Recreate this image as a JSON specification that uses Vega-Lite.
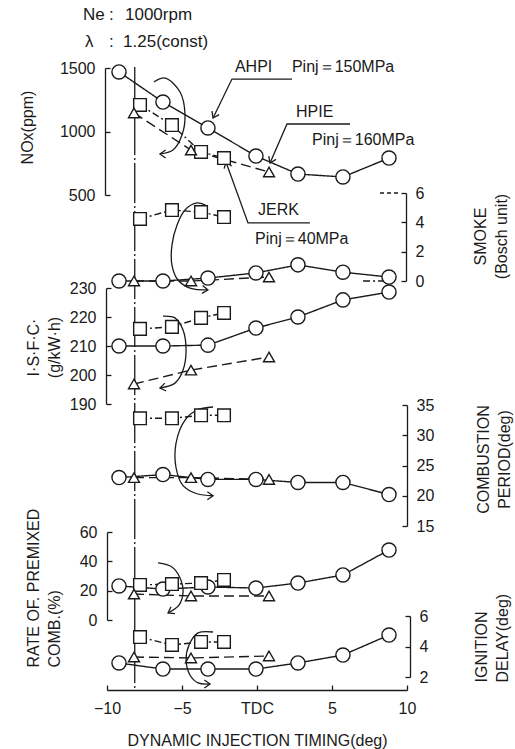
{
  "$schema": "https://vega.github.io/schema/vega-lite/v6.json",
  "width": 300,
  "height": 690,
  "autosize": {"type": "none"},
  "padding": {"left": 107, "top": 0, "right": 108, "bottom": 59},
  "background": "white",
  "config": {
    "view": {"stroke": null},
    "font": "Liberation Sans",
    "axis": {
      "grid": false, "domainColor": "#1a1a1a", "tickColor": "#1a1a1a", "labelColor": "#1a1a1a", "titleColor": "#1a1a1a",
      "domainWidth": 1.3, "tickWidth": 1.3, "tickSize": -5, "labelPadding": 15,
      "labelFont": "Liberation Sans", "labelFontSize": 16, "titleFont": "Liberation Sans", "titleFontSize": 16,
      "titleFontWeight": "normal", "labelFlush": false, "labelOverlap": false, "titleLineHeight": 21
    },
    "text": {"font": "Liberation Sans", "fontSize": 16, "fill": "#1a1a1a"}
  },
  "datasets": {
    "pts": [
      {"panel": "NOx", "series": "AHPI", "x": -9.2, "v": 1469},
      {"panel": "NOx", "series": "AHPI", "x": -6.27, "v": 1232},
      {"panel": "NOx", "series": "AHPI", "x": -3.27, "v": 1028},
      {"panel": "NOx", "series": "AHPI", "x": -0.07, "v": 807},
      {"panel": "NOx", "series": "AHPI", "x": 2.73, "v": 665},
      {"panel": "NOx", "series": "AHPI", "x": 5.73, "v": 642},
      {"panel": "NOx", "series": "AHPI", "x": 8.8, "v": 791},
      {"panel": "NOx", "series": "JERK", "x": -7.8, "v": 1209},
      {"panel": "NOx", "series": "JERK", "x": -5.67, "v": 1051},
      {"panel": "NOx", "series": "JERK", "x": -3.73, "v": 839},
      {"panel": "NOx", "series": "JERK", "x": -2.2, "v": 791},
      {"panel": "NOx", "series": "HPIE", "x": -8.2, "v": 1146},
      {"panel": "NOx", "series": "HPIE", "x": -4.4, "v": 854},
      {"panel": "NOx", "series": "HPIE", "x": 0.8, "v": 681},

      {"panel": "Smoke", "series": "AHPI", "x": -9.2, "v": 0},
      {"panel": "Smoke", "series": "AHPI", "x": -6.27, "v": 0},
      {"panel": "Smoke", "series": "AHPI", "x": -3.27, "v": 0.2},
      {"panel": "Smoke", "series": "AHPI", "x": -0.07, "v": 0.55},
      {"panel": "Smoke", "series": "AHPI", "x": 2.73, "v": 1.1},
      {"panel": "Smoke", "series": "AHPI", "x": 5.73, "v": 0.6},
      {"panel": "Smoke", "series": "AHPI", "x": 8.8, "v": 0.27},
      {"panel": "Smoke", "series": "JERK", "x": -7.8, "v": 4.23},
      {"panel": "Smoke", "series": "JERK", "x": -5.67, "v": 4.84},
      {"panel": "Smoke", "series": "JERK", "x": -3.73, "v": 4.7},
      {"panel": "Smoke", "series": "JERK", "x": -2.2, "v": 4.36},
      {"panel": "Smoke", "series": "HPIE", "x": -8.2, "v": 0},
      {"panel": "Smoke", "series": "HPIE", "x": -4.4, "v": 0},
      {"panel": "Smoke", "series": "HPIE", "x": 0.8, "v": 0.27},

      {"panel": "ISFC", "series": "AHPI", "x": -9.2, "v": 210},
      {"panel": "ISFC", "series": "AHPI", "x": -6.27, "v": 210},
      {"panel": "ISFC", "series": "AHPI", "x": -3.27, "v": 210.3},
      {"panel": "ISFC", "series": "AHPI", "x": -0.07, "v": 216.2},
      {"panel": "ISFC", "series": "AHPI", "x": 2.73, "v": 220},
      {"panel": "ISFC", "series": "AHPI", "x": 5.73, "v": 225.9},
      {"panel": "ISFC", "series": "AHPI", "x": 8.8, "v": 228.6},
      {"panel": "ISFC", "series": "JERK", "x": -7.8, "v": 215.9},
      {"panel": "ISFC", "series": "JERK", "x": -5.67, "v": 216.6},
      {"panel": "ISFC", "series": "JERK", "x": -3.73, "v": 219.7},
      {"panel": "ISFC", "series": "JERK", "x": -2.2, "v": 221.4},
      {"panel": "ISFC", "series": "HPIE", "x": -8.2, "v": 196.9},
      {"panel": "ISFC", "series": "HPIE", "x": -4.4, "v": 201.7},
      {"panel": "ISFC", "series": "HPIE", "x": 0.8, "v": 206.2},

      {"panel": "Comb", "series": "AHPI", "x": -9.2, "v": 23},
      {"panel": "Comb", "series": "AHPI", "x": -6.27, "v": 23.5},
      {"panel": "Comb", "series": "AHPI", "x": -3.27, "v": 22.7},
      {"panel": "Comb", "series": "AHPI", "x": -0.07, "v": 22.7},
      {"panel": "Comb", "series": "AHPI", "x": 2.73, "v": 22.2},
      {"panel": "Comb", "series": "AHPI", "x": 5.73, "v": 22.2},
      {"panel": "Comb", "series": "AHPI", "x": 8.8, "v": 20.2},
      {"panel": "Comb", "series": "JERK", "x": -7.8, "v": 32.8},
      {"panel": "Comb", "series": "JERK", "x": -5.67, "v": 32.8},
      {"panel": "Comb", "series": "JERK", "x": -3.73, "v": 33.3},
      {"panel": "Comb", "series": "JERK", "x": -2.2, "v": 33.3},
      {"panel": "Comb", "series": "HPIE", "x": -8.2, "v": 23},
      {"panel": "Comb", "series": "HPIE", "x": -4.4, "v": 23},
      {"panel": "Comb", "series": "HPIE", "x": 0.8, "v": 22.7},

      {"panel": "Prem", "series": "AHPI", "x": -9.2, "v": 23.2},
      {"panel": "Prem", "series": "AHPI", "x": -6.27, "v": 21.1},
      {"panel": "Prem", "series": "AHPI", "x": -3.27, "v": 22.5},
      {"panel": "Prem", "series": "AHPI", "x": -0.07, "v": 21.8},
      {"panel": "Prem", "series": "AHPI", "x": 2.73, "v": 25.2},
      {"panel": "Prem", "series": "AHPI", "x": 5.73, "v": 30.7},
      {"panel": "Prem", "series": "AHPI", "x": 8.8, "v": 47.7},
      {"panel": "Prem", "series": "JERK", "x": -7.8, "v": 23.9},
      {"panel": "Prem", "series": "JERK", "x": -5.67, "v": 24.5},
      {"panel": "Prem", "series": "JERK", "x": -3.73, "v": 25.2},
      {"panel": "Prem", "series": "JERK", "x": -2.2, "v": 27.3},
      {"panel": "Prem", "series": "HPIE", "x": -8.2, "v": 17.7},
      {"panel": "Prem", "series": "HPIE", "x": -4.4, "v": 16.4},
      {"panel": "Prem", "series": "HPIE", "x": 0.8, "v": 16.4},

      {"panel": "Ign", "series": "AHPI", "x": -9.2, "v": 2.92},
      {"panel": "Ign", "series": "AHPI", "x": -6.27, "v": 2.52},
      {"panel": "Ign", "series": "AHPI", "x": -3.27, "v": 2.52},
      {"panel": "Ign", "series": "AHPI", "x": -0.07, "v": 2.52},
      {"panel": "Ign", "series": "AHPI", "x": 2.73, "v": 2.92},
      {"panel": "Ign", "series": "AHPI", "x": 5.73, "v": 3.44},
      {"panel": "Ign", "series": "AHPI", "x": 8.8, "v": 4.75},
      {"panel": "Ign", "series": "JERK", "x": -7.8, "v": 4.62},
      {"panel": "Ign", "series": "JERK", "x": -5.67, "v": 4.1},
      {"panel": "Ign", "series": "JERK", "x": -3.73, "v": 4.3},
      {"panel": "Ign", "series": "JERK", "x": -2.2, "v": 4.3},
      {"panel": "Ign", "series": "HPIE", "x": -8.2, "v": 3.31},
      {"panel": "Ign", "series": "HPIE", "x": -4.4, "v": 3.25},
      {"panel": "Ign", "series": "HPIE", "x": 0.8, "v": 3.38}
    ],
    "arcs": [
      {"id": "NOx", "o": 1, "x": -6.87, "v": 1390}, {"id": "NOx", "o": 2, "x": -6.13, "v": 1421}, {"id": "NOx", "o": 3, "x": -5.13, "v": 1311},
      {"id": "NOx", "o": 4, "x": -4.8, "v": 1130}, {"id": "NOx", "o": 5, "x": -5.0, "v": 972}, {"id": "NOx", "o": 6, "x": -5.6, "v": 854}, {"id": "NOx", "o": 7, "x": -6.47, "v": 823},
      {"id": "Smoke", "o": 1, "x": -3.33, "v": 5.11}, {"id": "Smoke", "o": 2, "x": -4.0, "v": 5.32}, {"id": "Smoke", "o": 3, "x": -4.8, "v": 4.84},
      {"id": "Smoke", "o": 4, "x": -5.33, "v": 3.82}, {"id": "Smoke", "o": 5, "x": -5.67, "v": 2.45}, {"id": "Smoke", "o": 6, "x": -5.67, "v": 1.09},
      {"id": "Smoke", "o": 7, "x": -5.27, "v": 0.07}, {"id": "Smoke", "o": 8, "x": -4.47, "v": -0.48}, {"id": "Smoke", "o": 9, "x": -3.27, "v": -0.61},
      {"id": "ISFC", "o": 1, "x": -6.27, "v": 220.3}, {"id": "ISFC", "o": 2, "x": -5.47, "v": 219.7}, {"id": "ISFC", "o": 3, "x": -4.93, "v": 215.5},
      {"id": "ISFC", "o": 4, "x": -4.73, "v": 208.6}, {"id": "ISFC", "o": 5, "x": -4.93, "v": 201.7}, {"id": "ISFC", "o": 6, "x": -5.47, "v": 197.2}, {"id": "ISFC", "o": 7, "x": -6.47, "v": 195.5},
      {"id": "Comb", "o": 1, "x": -2.93, "v": 34.67}, {"id": "Comb", "o": 2, "x": -4.0, "v": 34.17}, {"id": "Comb", "o": 3, "x": -4.8, "v": 32.5},
      {"id": "Comb", "o": 4, "x": -5.4, "v": 28.67}, {"id": "Comb", "o": 5, "x": -5.4, "v": 24.67}, {"id": "Comb", "o": 6, "x": -4.93, "v": 21.67},
      {"id": "Comb", "o": 7, "x": -4.0, "v": 20.33}, {"id": "Comb", "o": 8, "x": -2.93, "v": 20.0},
      {"id": "Prem", "o": 1, "x": -6.6, "v": 38.9}, {"id": "Prem", "o": 2, "x": -5.67, "v": 36.1}, {"id": "Prem", "o": 3, "x": -5.13, "v": 28.6},
      {"id": "Prem", "o": 4, "x": -4.93, "v": 19.1}, {"id": "Prem", "o": 5, "x": -5.2, "v": 10.2}, {"id": "Prem", "o": 6, "x": -5.93, "v": 4.8},
      {"id": "Ign", "o": 1, "x": -2.93, "v": 4.95}, {"id": "Ign", "o": 2, "x": -3.93, "v": 4.89}, {"id": "Ign", "o": 3, "x": -4.53, "v": 4.1},
      {"id": "Ign", "o": 4, "x": -4.73, "v": 3.11}, {"id": "Ign", "o": 5, "x": -4.47, "v": 2.13}, {"id": "Ign", "o": 6, "x": -3.93, "v": 1.61}, {"id": "Ign", "o": 7, "x": -3.13, "v": 1.54}
    ],
    "leaders": [
      {"id": "AHPI", "o": 1, "x": 2.33, "v": 1413}, {"id": "AHPI", "o": 2, "x": -1.67, "v": 1413}, {"id": "AHPI", "o": 3, "x": -2.93, "v": 1106},
      {"id": "HPIE", "o": 1, "x": 6.2, "v": 1059}, {"id": "HPIE", "o": 2, "x": 2.0, "v": 1059}, {"id": "HPIE", "o": 3, "x": 0.87, "v": 752},
      {"id": "JERK", "o": 1, "x": 3.53, "v": 280}, {"id": "JERK", "o": 2, "x": -0.6, "v": 280}, {"id": "JERK", "o": 3, "x": -2.07, "v": 760}
    ],
    "heads": [
      {"id": "NOx", "x": -6.47, "v": 823},
      {"id": "AHPI", "x": -2.93, "v": 1106},
      {"id": "HPIE", "x": 0.87, "v": 752},
      {"id": "JERK", "x": -2.07, "v": 760},
      {"id": "Smoke", "x": -3.27, "v": -0.61},
      {"id": "ISFC", "x": -6.47, "v": 195.5},
      {"id": "Comb", "x": -2.93, "v": 20.0},
      {"id": "Prem", "x": -5.93, "v": 4.8},
      {"id": "Ign", "x": -3.13, "v": 1.54}
    ],
    "labels": [
      {"t": "Ne", "x": -11.6, "v": 1917, "k": "head"},
      {"t": ":", "x": -9.87, "v": 1917, "k": "head"},
      {"t": "1000rpm", "x": -8.8, "v": 1917, "k": "head"},
      {"t": "λ", "x": -11.47, "v": 1705, "k": "head"},
      {"t": ":", "x": -9.87, "v": 1705, "k": "head"},
      {"t": "1.25(const)", "x": -8.93, "v": 1705, "k": "head"},
      {"t": "AHPI", "x": -1.47, "v": 1508, "k": "lab"},
      {"t": "Pinj＝150MPa", "x": 2.33, "v": 1508, "k": "lab"},
      {"t": "HPIE", "x": 2.6, "v": 1154, "k": "lab"},
      {"t": "Pinj＝160MPa", "x": 3.67, "v": 933, "k": "lab"},
      {"t": "JERK", "x": 0.07, "v": 382, "k": "lab"},
      {"t": "Pinj＝40MPa", "x": -0.13, "v": 153, "k": "lab"}
    ]
  },
  "encoding": {
    "x": {
      "field": "x", "type": "quantitative",
      "scale": {"domain": [-10, 10], "nice": false, "zero": false},
      "axis": {
        "values": [-10, -5, 0, 5, 10],
        "labelExpr": "datum.value == 0 ? 'TDC' : datum.label",
        "title": "DYNAMIC INJECTION TIMING(deg)",
        "titleY": 50, "titleBaseline": "middle"
      }
    }
  },
  "layer": [
    {
      "encoding": {"y": {"field": "v", "type": "quantitative", "scale": {"domain": [500, 1500], "range": [195, 68], "zero": false, "nice": false},
        "axis": {"orient": "left", "offset": 2, "values": [500, 1000, 1500], "format": "d", "title": "NOx(ppm)", "titleAngle": -90, "titleX": -78, "titleY": 127, "titleAlign": "center", "titleBaseline": "middle"}}},
      "layer": [
        {"data": {"values": [{"x": -8.15, "v": 1508, "v2": -3398}]}, "mark": {"type": "rule", "color": "#1a1a1a", "strokeWidth": 1.3, "strokeDash": [40, 3, 2, 3]}, "encoding": {"y2": {"field": "v2"}}},
        {"data": {"name": "pts"}, "transform": [{"filter": "datum.panel === 'NOx'"}], "mark": {"type": "line", "color": "#1a1a1a", "strokeWidth": 1.4},
          "encoding": {"strokeDash": {"field": "series", "type": "nominal", "scale": {"domain": ["AHPI", "JERK", "HPIE"], "range": [[1, 0], [7, 3, 2, 3], [10, 5]]}, "legend": null}}},
        {"data": {"name": "arcs"}, "transform": [{"filter": "datum.id === 'NOx'"}], "mark": {"type": "line", "color": "#1a1a1a", "strokeWidth": 1.3, "interpolate": "catmull-rom"}, "encoding": {"order": {"field": "o"}}},
        {"data": {"name": "leaders"}, "mark": {"type": "line", "color": "#1a1a1a", "strokeWidth": 1.3}, "encoding": {"detail": {"field": "id"}, "order": {"field": "o"}}},
        {"data": {"name": "heads"}, "transform": [{"filter": "datum.id === 'NOx'"}], "mark": {"type": "point", "shape": "M-1,-0.7L0,0L-1,0.7", "filled": false, "stroke": "#1a1a1a", "strokeWidth": 1.3, "size": 130, "angle": 180, "opacity": 1}},
        {"data": {"name": "heads"}, "transform": [{"filter": "datum.id === 'AHPI'"}], "mark": {"type": "point", "shape": "M-1,-0.7L0,0L-1,0.7", "filled": false, "stroke": "#1a1a1a", "strokeWidth": 1.3, "size": 130, "angle": 116, "opacity": 1}},
        {"data": {"name": "heads"}, "transform": [{"filter": "datum.id === 'HPIE'"}], "mark": {"type": "point", "shape": "M-1,-0.7L0,0L-1,0.7", "filled": false, "stroke": "#1a1a1a", "strokeWidth": 1.3, "size": 130, "angle": 114, "opacity": 1}},
        {"data": {"name": "heads"}, "transform": [{"filter": "datum.id === 'JERK'"}], "mark": {"type": "point", "shape": "M-1,-0.7L0,0L-1,0.7", "filled": false, "stroke": "#1a1a1a", "strokeWidth": 1.3, "size": 130, "angle": 250, "opacity": 1}},
        {"data": {"name": "pts"}, "transform": [{"filter": "datum.panel === 'NOx'"}], "mark": {"type": "point", "filled": true, "fill": "white", "stroke": "#1a1a1a", "strokeWidth": 1.4, "opacity": 1},
          "encoding": {"shape": {"field": "series", "type": "nominal", "scale": {"domain": ["AHPI", "JERK", "HPIE"], "range": ["circle", "square", "triangle-up"]}, "legend": null},
            "size": {"field": "series", "type": "nominal", "scale": {"domain": ["AHPI", "JERK", "HPIE"], "range": [200, 121, 170]}, "legend": null}}},
        {"data": {"name": "labels"}, "transform": [{"filter": "datum.k === 'head'"}], "mark": {"type": "text", "align": "left", "baseline": "middle", "fontSize": 17}, "encoding": {"text": {"field": "t"}}},
        {"data": {"name": "labels"}, "transform": [{"filter": "datum.k === 'lab'"}], "mark": {"type": "text", "align": "left", "baseline": "middle", "fontSize": 16}, "encoding": {"text": {"field": "t"}}}
      ]
    },
    {
      "encoding": {"y": {"field": "v", "type": "quantitative", "scale": {"domain": [0, 6], "range": [281, 193], "zero": false, "nice": false},
        "axis": {"orient": "right", "offset": -1, "values": [0, 2, 4, 6], "labelPadding": 14, "title": ["SMOKE", "(Bosch unit)"], "titleAngle": -90, "titleX": 74, "titleY": 236, "titleAlign": "center", "titleBaseline": "middle"}}},
      "layer": [
        {"data": {"name": "pts"}, "transform": [{"filter": "datum.panel === 'Smoke'"}], "mark": {"type": "line", "color": "#1a1a1a", "strokeWidth": 1.4},
          "encoding": {"strokeDash": {"field": "series", "type": "nominal", "scale": {"domain": ["AHPI", "JERK", "HPIE"], "range": [[1, 0], [7, 3, 2, 3], [10, 5]]}, "legend": null}}},
        {"data": {"values": [{"x": 8.2, "v": 6}, {"x": 9.53, "v": 6}]}, "mark": {"type": "line", "color": "#1a1a1a", "strokeWidth": 1.3, "strokeDash": [4, 3]}, "encoding": {}},
        {"data": {"values": [{"x": 7.07, "v": 0}, {"x": 8.53, "v": 0}]}, "mark": {"type": "line", "color": "#1a1a1a", "strokeWidth": 1.3, "strokeDash": [7, 3, 2, 3]}, "encoding": {}},
        {"data": {"name": "arcs"}, "transform": [{"filter": "datum.id === 'Smoke'"}], "mark": {"type": "line", "color": "#1a1a1a", "strokeWidth": 1.3, "interpolate": "catmull-rom"}, "encoding": {"order": {"field": "o"}}},
        {"data": {"name": "heads"}, "transform": [{"filter": "datum.id === 'Smoke'"}], "mark": {"type": "point", "shape": "M-1,-0.7L0,0L-1,0.7", "filled": false, "stroke": "#1a1a1a", "strokeWidth": 1.3, "size": 130, "angle": 5, "opacity": 1}},
        {"data": {"name": "pts"}, "transform": [{"filter": "datum.panel === 'Smoke'"}], "mark": {"type": "point", "filled": true, "fill": "white", "stroke": "#1a1a1a", "strokeWidth": 1.4, "opacity": 1},
          "encoding": {"shape": {"field": "series", "type": "nominal", "scale": {"domain": ["AHPI", "JERK", "HPIE"], "range": ["circle", "square", "triangle-up"]}, "legend": null},
            "size": {"field": "series", "type": "nominal", "scale": {"domain": ["AHPI", "JERK", "HPIE"], "range": [200, 121, 170]}, "legend": null}}}
      ]
    },
    {
      "encoding": {"y": {"field": "v", "type": "quantitative", "scale": {"domain": [190, 230], "range": [404, 288], "zero": false, "nice": false},
        "axis": {"orient": "left", "offset": 1, "values": [190, 200, 210, 220, 230], "title": ["I·S·F·C·", "(g/kW·h)"], "titleAngle": -90, "titleX": -73, "titleY": 347, "titleAlign": "center", "titleBaseline": "middle"}}},
      "layer": [
        {"data": {"name": "pts"}, "transform": [{"filter": "datum.panel === 'ISFC'"}], "mark": {"type": "line", "color": "#1a1a1a", "strokeWidth": 1.4},
          "encoding": {"strokeDash": {"field": "series", "type": "nominal", "scale": {"domain": ["AHPI", "JERK", "HPIE"], "range": [[1, 0], [7, 3, 2, 3], [10, 5]]}, "legend": null}}},
        {"data": {"name": "arcs"}, "transform": [{"filter": "datum.id === 'ISFC'"}], "mark": {"type": "line", "color": "#1a1a1a", "strokeWidth": 1.3, "interpolate": "catmull-rom"}, "encoding": {"order": {"field": "o"}}},
        {"data": {"name": "heads"}, "transform": [{"filter": "datum.id === 'ISFC'"}], "mark": {"type": "point", "shape": "M-1,-0.7L0,0L-1,0.7", "filled": false, "stroke": "#1a1a1a", "strokeWidth": 1.3, "size": 130, "angle": 170, "opacity": 1}},
        {"data": {"name": "pts"}, "transform": [{"filter": "datum.panel === 'ISFC'"}], "mark": {"type": "point", "filled": true, "fill": "white", "stroke": "#1a1a1a", "strokeWidth": 1.4, "opacity": 1},
          "encoding": {"shape": {"field": "series", "type": "nominal", "scale": {"domain": ["AHPI", "JERK", "HPIE"], "range": ["circle", "square", "triangle-up"]}, "legend": null},
            "size": {"field": "series", "type": "nominal", "scale": {"domain": ["AHPI", "JERK", "HPIE"], "range": [200, 121, 170]}, "legend": null}}}
      ]
    },
    {
      "encoding": {"y": {"field": "v", "type": "quantitative", "scale": {"domain": [15, 35], "range": [526, 405], "zero": false, "nice": false},
        "axis": {"orient": "right", "offset": 0, "values": [15, 20, 25, 30, 35], "labelPadding": 14, "title": ["COMBUSTION", "PERIOD(deg)"], "titleAngle": -90, "titleX": 76, "titleY": 459, "titleAlign": "center", "titleBaseline": "middle"}}},
      "layer": [
        {"data": {"name": "pts"}, "transform": [{"filter": "datum.panel === 'Comb'"}], "mark": {"type": "line", "color": "#1a1a1a", "strokeWidth": 1.4},
          "encoding": {"strokeDash": {"field": "series", "type": "nominal", "scale": {"domain": ["AHPI", "JERK", "HPIE"], "range": [[1, 0], [7, 3, 2, 3], [10, 5]]}, "legend": null}}},
        {"data": {"name": "arcs"}, "transform": [{"filter": "datum.id === 'Comb'"}], "mark": {"type": "line", "color": "#1a1a1a", "strokeWidth": 1.3, "interpolate": "catmull-rom"}, "encoding": {"order": {"field": "o"}}},
        {"data": {"name": "heads"}, "transform": [{"filter": "datum.id === 'Comb'"}], "mark": {"type": "point", "shape": "M-1,-0.7L0,0L-1,0.7", "filled": false, "stroke": "#1a1a1a", "strokeWidth": 1.3, "size": 130, "angle": 0, "opacity": 1}},
        {"data": {"name": "pts"}, "transform": [{"filter": "datum.panel === 'Comb'"}], "mark": {"type": "point", "filled": true, "fill": "white", "stroke": "#1a1a1a", "strokeWidth": 1.4, "opacity": 1},
          "encoding": {"shape": {"field": "series", "type": "nominal", "scale": {"domain": ["AHPI", "JERK", "HPIE"], "range": ["circle", "square", "triangle-up"]}, "legend": null},
            "size": {"field": "series", "type": "nominal", "scale": {"domain": ["AHPI", "JERK", "HPIE"], "range": [200, 121, 170]}, "legend": null}}}
      ]
    },
    {
      "encoding": {"y": {"field": "v", "type": "quantitative", "scale": {"domain": [0, 60], "range": [620, 532], "zero": false, "nice": false},
        "axis": {"orient": "left", "offset": 0, "values": [0, 20, 40, 60], "title": ["RATE OF. PREMIXED", "COMB.(%)"], "titleAngle": -90, "titleX": -74, "titleY": 667, "titleAlign": "left", "titleBaseline": "middle"}}},
      "layer": [
        {"data": {"name": "pts"}, "transform": [{"filter": "datum.panel === 'Prem'"}], "mark": {"type": "line", "color": "#1a1a1a", "strokeWidth": 1.4},
          "encoding": {"strokeDash": {"field": "series", "type": "nominal", "scale": {"domain": ["AHPI", "JERK", "HPIE"], "range": [[1, 0], [7, 3, 2, 3], [10, 5]]}, "legend": null}}},
        {"data": {"name": "arcs"}, "transform": [{"filter": "datum.id === 'Prem'"}], "mark": {"type": "line", "color": "#1a1a1a", "strokeWidth": 1.3, "interpolate": "catmull-rom"}, "encoding": {"order": {"field": "o"}}},
        {"data": {"name": "heads"}, "transform": [{"filter": "datum.id === 'Prem'"}], "mark": {"type": "point", "shape": "M-1,-0.7L0,0L-1,0.7", "filled": false, "stroke": "#1a1a1a", "strokeWidth": 1.3, "size": 130, "angle": 150, "opacity": 1}},
        {"data": {"name": "pts"}, "transform": [{"filter": "datum.panel === 'Prem'"}], "mark": {"type": "point", "filled": true, "fill": "white", "stroke": "#1a1a1a", "strokeWidth": 1.4, "opacity": 1},
          "encoding": {"shape": {"field": "series", "type": "nominal", "scale": {"domain": ["AHPI", "JERK", "HPIE"], "range": ["circle", "square", "triangle-up"]}, "legend": null},
            "size": {"field": "series", "type": "nominal", "scale": {"domain": ["AHPI", "JERK", "HPIE"], "range": [200, 121, 170]}, "legend": null}}}
      ]
    },
    {
      "encoding": {"y": {"field": "v", "type": "quantitative", "scale": {"domain": [2, 6], "range": [677, 616], "zero": false, "nice": false},
        "axis": {"orient": "right", "offset": 3, "values": [2, 4, 6], "labelPadding": 14, "title": ["IGNITION", "DELAY(deg)"], "titleAngle": -90, "titleX": 71, "titleY": 682, "titleAlign": "left", "titleBaseline": "middle"}}},
      "layer": [
        {"data": {"name": "pts"}, "transform": [{"filter": "datum.panel === 'Ign'"}], "mark": {"type": "line", "color": "#1a1a1a", "strokeWidth": 1.4},
          "encoding": {"strokeDash": {"field": "series", "type": "nominal", "scale": {"domain": ["AHPI", "JERK", "HPIE"], "range": [[1, 0], [7, 3, 2, 3], [10, 5]]}, "legend": null}}},
        {"data": {"name": "arcs"}, "transform": [{"filter": "datum.id === 'Ign'"}], "mark": {"type": "line", "color": "#1a1a1a", "strokeWidth": 1.3, "interpolate": "catmull-rom"}, "encoding": {"order": {"field": "o"}}},
        {"data": {"name": "heads"}, "transform": [{"filter": "datum.id === 'Ign'"}], "mark": {"type": "point", "shape": "M-1,-0.7L0,0L-1,0.7", "filled": false, "stroke": "#1a1a1a", "strokeWidth": 1.3, "size": 130, "angle": 0, "opacity": 1}},
        {"data": {"name": "pts"}, "transform": [{"filter": "datum.panel === 'Ign'"}], "mark": {"type": "point", "filled": true, "fill": "white", "stroke": "#1a1a1a", "strokeWidth": 1.4, "opacity": 1},
          "encoding": {"shape": {"field": "series", "type": "nominal", "scale": {"domain": ["AHPI", "JERK", "HPIE"], "range": ["circle", "square", "triangle-up"]}, "legend": null},
            "size": {"field": "series", "type": "nominal", "scale": {"domain": ["AHPI", "JERK", "HPIE"], "range": [200, 121, 170]}, "legend": null}}}
      ]
    }
  ],
  "resolve": {"scale": {"y": "independent"}, "axis": {"y": "independent"}}
}
